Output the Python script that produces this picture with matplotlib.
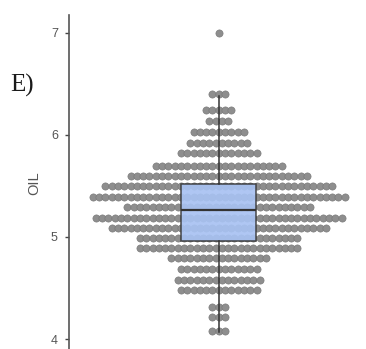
import matplotlib
matplotlib.use("Agg")
import matplotlib.pyplot as plt
import numpy as np

# dot rows: OIL value of each stack and how many dots it holds
row_values = [7.0, 6.4, 6.24, 6.14, 6.03, 5.92, 5.82, 5.7, 5.6, 5.5, 5.39, 5.29,
              5.19, 5.09, 4.99, 4.89, 4.79, 4.69, 4.58, 4.48, 4.31, 4.22, 4.08]
row_counts = [1, 3, 5, 4, 9, 10, 13, 21, 29, 37, 41, 30,
              40, 35, 26, 26, 16, 13, 14, 13, 3, 3, 3]

# box summary
q1 = 4.96
median = 5.265
q3 = 5.52
whisker_low = 4.07
whisker_high = 6.38

y_ticks = [4, 5, 6, 7]

W, H = 366, 349
fig = plt.figure(figsize=(W / 100, H / 100), dpi=100)
ax = fig.add_axes([69 / W, 0, 1 - 69 / W, 1 - 15 / H])

# x in pixels inside the axes, centre of the group
cx = 149.7
step = 6.3

xs = []
ys = []
for v, n in zip(row_values, row_counts):
    for i in range(n):
        xs.append(cx + (i - (n - 1) / 2) * step)
        ys.append(v)

ax.scatter(xs, ys, s=27, facecolor="#8e8e8e", edgecolor="#747474",
           linewidth=0.4, zorder=2)

stats = [dict(med=median, q1=q1, q3=q3, whislo=whisker_low, whishi=whisker_high,
              fliers=[])]
ax.bxp(stats, positions=[cx], widths=75, patch_artist=True, showcaps=False,
       boxprops=dict(facecolor="#a8c2f2", edgecolor="#3a3a3a", linewidth=1.1, alpha=0.92),
       medianprops=dict(color="#333333", linewidth=1.6),
       whiskerprops=dict(color="#333333", linewidth=1.1),
       manage_ticks=False, zorder=3)

ax.set_xlim(0, W - 69)
ax.set_ylim(3.902, 7.176)
ax.set_xticks([])
ax.set_yticks(y_ticks)
ax.set_yticklabels([str(t) for t in y_ticks])
ax.tick_params(axis="y", length=3, width=1, color="#444444", labelcolor="#555555",
               labelsize=9, pad=5)
for lab in ax.get_yticklabels():
    lab.set_fontfamily("Liberation Sans")

for side in ["top", "right", "bottom"]:
    ax.spines[side].set_visible(False)
ax.spines["left"].set_color("#555555")
ax.spines["left"].set_linewidth(1.2)

fig.text(34 / W, 1 - 183 / H, "OIL", rotation=90, ha="center", va="center",
         fontsize=10.5, color="#555555", family="Liberation Sans")
fig.text(10 / W, 1 - 85 / H, "E)", ha="left", va="center",
         fontsize=18, color="#1a1a1a", family="Liberation Serif")

fig.savefig("out.png", dpi=100)
